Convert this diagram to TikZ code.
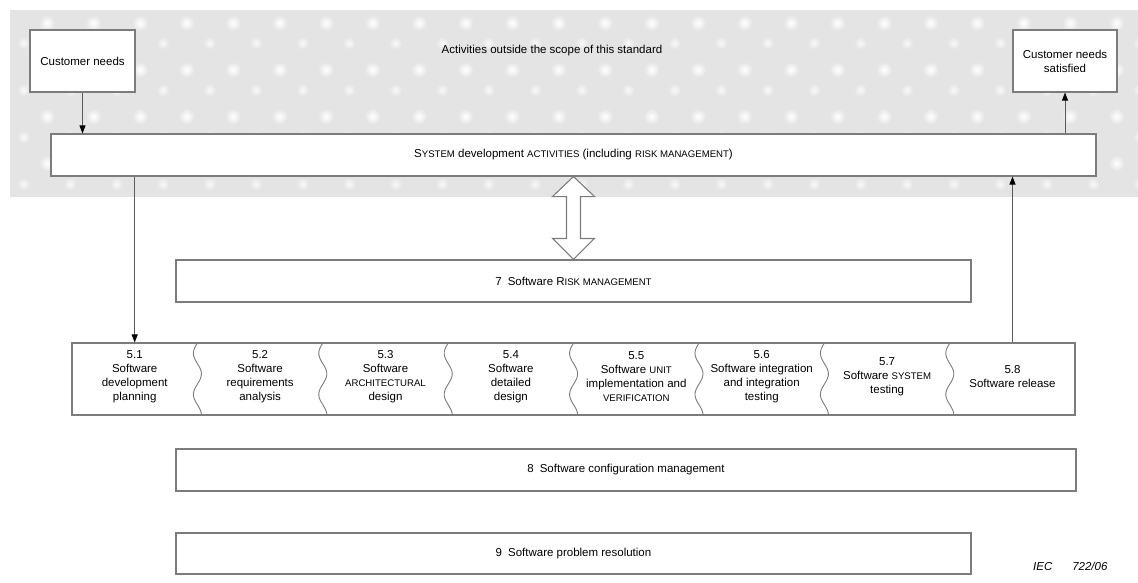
\documentclass[tikz,border=0pt]{standalone}
\usepackage{fontspec}
\setmainfont{Liberation Sans}
\usetikzlibrary{arrows.meta,calc}
\definecolor{bggray}{HTML}{E4E4E4}
\definecolor{boxgray}{HTML}{7C7C7C}
\definecolor{linegray}{HTML}{5A5A5A}
% reduced capitals used for defined terms
\newcommand\dterm[1]{{\fontsize{9.6}{9.6}\selectfont #1}}
\begin{document}
\begin{tikzpicture}[x=1pt,y=-1pt,
  font=\fontsize{11.5}{14}\selectfont,
  box/.style={draw=boxgray, line width=1.1pt, fill=white, inner sep=0pt, align=center},
  stage/.style={inner sep=0pt, minimum width=125.4pt, minimum height=72pt, align=center},
  link/.style={draw=linegray, line width=0.8pt, -{Triangle[length=8pt,width=6pt,color=black]}},
  divider/.style={draw=boxgray, line width=0.9pt}]
\useasboundingbox (0,0) rectangle (1138,583);

% patterned band for the outside activities
\begin{scope}
  \clip (10,10) rectangle (1138,197);
  \fill[bggray] (10,10) rectangle (1138,197);
  \foreach \r in {0,...,3} {
    \foreach \c in {0,...,24} {
      \shade[inner color=white, outer color=bggray] ({47+46.5*\c},{23+46.7*\r}) circle (8);
      \shade[inner color=white!75!bggray, outer color=bggray] ({23.5+46.5*\c},{43+47*\r}) circle (6.5);
    }
  }
\end{scope}

\node (outside) at (552,51) {Activities outside the scope of this standard};

\node[box, minimum width=105pt, minimum height=62pt] (cn) at (82.5,61) {Customer needs};
\node[box, minimum width=104pt, minimum height=62pt] (cns) at (1065,61) {Customer needs\\satisfied};

\node[box, minimum width=1045pt, minimum height=42pt] (sys) at (573.5,155)
  {S\dterm{YSTEM} development \dterm{ACTIVITIES} (including \dterm{RISK MANAGEMENT})};

\node[box, minimum width=795pt, minimum height=42pt] (risk) at (573.5,281)
  {7\hspace{6pt}Software R\dterm{ISK MANAGEMENT}};

% process stages
\node[box, minimum width=1003pt, minimum height=72pt] (proc) at (573.5,379) {};
\foreach \i/\txt in {1/{5.1\\Software\\development\\planning},
                     2/{5.2\\Software\\requirements\\analysis},
                     3/{5.3\\Software\\\dterm{ARCHITECTURAL}\\design},
                     4/{5.4\\Software\\detailed\\design},
                     5/{5.5\\Software \dterm{UNIT}\\implementation and\\\dterm{VERIFICATION}},
                     6/{5.6\\Software integration\\and integration\\testing},
                     7/{5.7\\Software \dterm{SYSTEM}\\testing},
                     8/{5.8\\Software release}} {
  \node[stage] (s\i) at ({72+125.4*(\i-0.5)},377) {\txt};
}
\foreach \i in {1,...,7} {
  \pgfmathsetmacro\xz{72+125.4*\i}
  \draw[divider] plot[variable=\t, domain=0:72, samples=50, smooth]
    ({\xz-4*sin(\t*8.75)},{343+\t});
}

\node[box, minimum width=900pt, minimum height=42pt] (cfg) at (626,470)
  {8\hspace{6pt}Software configuration management};
\node[box, minimum width=795pt, minimum height=41pt] (prob) at (573.5,553.5)
  {9\hspace{6pt}Software problem resolution};

\node[font=\fontsize{11.5}{14}\itshape, anchor=east] (ref) at (1111,566) {IEC\hspace{20pt}722/06};

% connectors
\draw[link] (cn.south) -- (cn.south |- sys.north);
\draw[link] (sys.north -| cns.south) -- (cns.south);
\draw[link] (s1.north |- sys.south) -- (proc.north -| s1.north);
\draw[link] (proc.north -| s8.north) -- (s8.north |- sys.south);

% two-way arrow between system activities and software risk management
\coordinate (dt) at (sys.south);
\coordinate (db) at (risk.north);
\draw[box] (dt) -- ++(21,20) -- ++(-14,0) -- ($(db)+(7,-21)$) -- ++(14,0) -- (db)
  -- ++(-21,-21) -- ++(14,0) -- ($(dt)+(-7,20)$) -- ++(-14,0) -- cycle;
\end{tikzpicture}
\end{document}
